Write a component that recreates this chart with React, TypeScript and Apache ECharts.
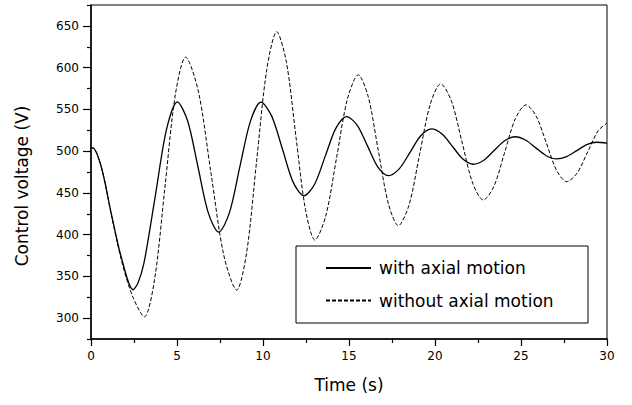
import { useEffect, useRef } from "react";
import * as echarts from "echarts";

// Control voltage response, with axial motion (solid trace)
const timeWith = [
  0, 0.1, 0.6, 1.18, 1.76, 2.45,
  2.73, 3.09, 3.74, 4.39, 5.02,
  5.62, 6.22, 6.82, 7.42,
  8.04, 8.65, 9.27, 9.88,
  10.5, 11.13, 11.75, 12.38,
  13.0, 13.62, 14.24, 14.86,
  15.47, 16.08, 16.68, 17.29,
  17.92, 18.55, 19.17, 19.8,
  20.41, 21.02, 21.62, 22.23,
  22.84, 23.44, 24.05, 24.65,
  25.26, 25.86, 26.47, 27.07,
  27.65, 28.24, 28.82, 29.4, 30,
];
const voltageWith = [
  503, 504, 481, 425, 373, 334,
  342, 367, 446.5, 526, 559,
  536, 481, 426, 403,
  425.7, 480.8, 535.9, 558.6,
  542.2, 502.5, 462.9, 446.5,
  460.4, 494, 527.5, 541.4,
  531.1, 506, 480.9, 470.6,
  478.8, 498.6, 518.4, 526.6,
  520.4, 505.5, 490.5, 484.3,
  489.1, 500.8, 512.4, 517.2,
  513.3, 503.9, 494.5, 490.6,
  493.5, 500.6, 507.7, 510.6, 509.5,
];

// Control voltage response, without axial motion (dashed trace)
const timeWithout = [
  0, 0.1, 0.6, 1.18, 1.76, 2.4, 3.1,
  3.7, 4.3, 4.9, 5.5,
  6.24, 6.98, 7.73, 8.47,
  9.05, 9.63, 10.22, 10.8,
  11.36, 11.91, 12.47, 13.02,
  13.65, 14.28, 14.91, 15.54,
  16.12, 16.7, 17.29, 17.87,
  18.49, 19.1, 19.72, 20.33,
  20.95, 21.57, 22.19, 22.81,
  23.43, 24.05, 24.67, 25.29,
  25.88, 26.48, 27.07, 27.66,
  28.27, 28.88, 29.49, 30,
];
const voltageWithout = [
  503, 504, 481, 424, 370, 327, 301.5,
  346.9, 457, 567.2, 612.6,
  571.8, 473.1, 374.4, 333.6,
  378.8, 488.3, 597.8, 643,
  606.6, 518.2, 429.9, 393.5,
  422.4, 492.4, 562.5, 591.4,
  565, 501, 437.1, 410.7,
  435.5, 495.6, 555.8, 580.6,
  560.3, 511, 461.8, 441.5,
  458.1, 498.5, 538.8, 555.4,
  542, 509.4, 476.8, 463.4,
  473.9, 499.2, 524.5, 533.5,
];

const seriesNames = ["with axial motion", "without axial motion"];
const xTitle = "Time (s)";
const yTitle = "Control voltage (V)";
const yMajorTicks = [300, 350, 400, 450, 500, 550, 600, 650];
const yMinorTicks = [275, 325, 375, 425, 475, 525, 575, 625, 675];

const zip = (xs: number[], ys: number[]) => xs.map((x, i) => [x, ys[i]]);

const FONT = "DejaVu Sans";

export default function App() {
  const ref = useRef<HTMLDivElement>(null);

  useEffect(() => {
    document.body.style.margin = "0";
    if (!ref.current) return;
    const chart = echarts.init(ref.current, null, { renderer: "svg" });

    const tickLabel = { color: "#000", fontFamily: FONT, fontSize: 12 };

    chart.setOption({
      animation: false,
      backgroundColor: "#fff",
      grid: {
        left: 91,
        right: 25,
        top: 5,
        bottom: 66,
        show: true,
        borderColor: "#000",
        borderWidth: 1,
        backgroundColor: "transparent",
      },
      xAxis: {
        type: "value",
        min: 0,
        max: 30,
        interval: 5,
        name: xTitle,
        nameLocation: "middle",
        nameGap: 37,
        nameTextStyle: { color: "#000", fontFamily: FONT, fontSize: 17 },
        axisLine: { show: true, lineStyle: { color: "#000", width: 1.5 } },
        axisTick: { show: true, inside: false, length: 7, lineStyle: { color: "#000", width: 1.2 } },
        minorTick: { show: true, splitNumber: 2, length: 4, lineStyle: { color: "#000", width: 1.2 } },
        axisLabel: { ...tickLabel, margin: 11 },
        splitLine: { show: false },
      },
      yAxis: [
        {
          type: "value",
          min: 275,
          max: 675,
          axisLine: { show: true, lineStyle: { color: "#000", width: 1.5 } },
          axisTick: {
            show: true,
            length: 8,
            customValues: yMajorTicks,
            lineStyle: { color: "#000", width: 1.2 },
          },
          axisLabel: { ...tickLabel, margin: 12, customValues: yMajorTicks },
          splitLine: { show: false },
        },
        {
          type: "value",
          min: 275,
          max: 675,
          position: "left",
          axisLine: { show: false },
          axisTick: {
            show: true,
            length: 4,
            customValues: yMinorTicks,
            lineStyle: { color: "#000", width: 1.2 },
          },
          axisLabel: { show: false, customValues: yMinorTicks },
          splitLine: { show: false },
        },
      ],
      legend: {
        orient: "vertical",
        left: 325,
        top: 258,
        padding: 0,
        itemWidth: 45,
        itemHeight: 14,
        itemGap: 12.5,
        selectedMode: false,
        itemStyle: { opacity: 0 },
        textStyle: {
          color: "#000",
          fontFamily: FONT,
          fontSize: 17,
          lineHeight: 20,
          padding: [0, 0, 0, 3],
        },
        data: seriesNames,
      },
      graphic: [
        {
          type: "rect",
          shape: { x: 296, y: 246, width: 292, height: 77 },
          style: { fill: "none", stroke: "#000", lineWidth: 1 },
          z: 10,
        },
        {
          type: "text",
          x: 22,
          y: 186,
          rotation: Math.PI / 2,
          style: {
            text: yTitle,
            fill: "#000",
            font: `17px "${FONT}"`,
            align: "center",
            verticalAlign: "middle",
          },
        },
      ],
      series: [
        {
          name: seriesNames[0],
          type: "line",
          data: zip(timeWith, voltageWith),
          symbol: "none",
          smooth: 0.3,
          lineStyle: { color: "#000", width: 1.3, type: "solid" },
          itemStyle: { color: "#000" },
        },
        {
          name: seriesNames[1],
          type: "line",
          data: zip(timeWithout, voltageWithout),
          symbol: "none",
          smooth: 0.3,
          lineStyle: { color: "#000", width: 1, type: [4, 2] },
          itemStyle: { color: "#000" },
        },
      ],
    });

    return () => chart.dispose();
  }, []);

  return (
    <div
      ref={ref}
      style={{ position: "absolute", left: 0, top: 0, width: 632, height: 405 }}
    />
  );
}
